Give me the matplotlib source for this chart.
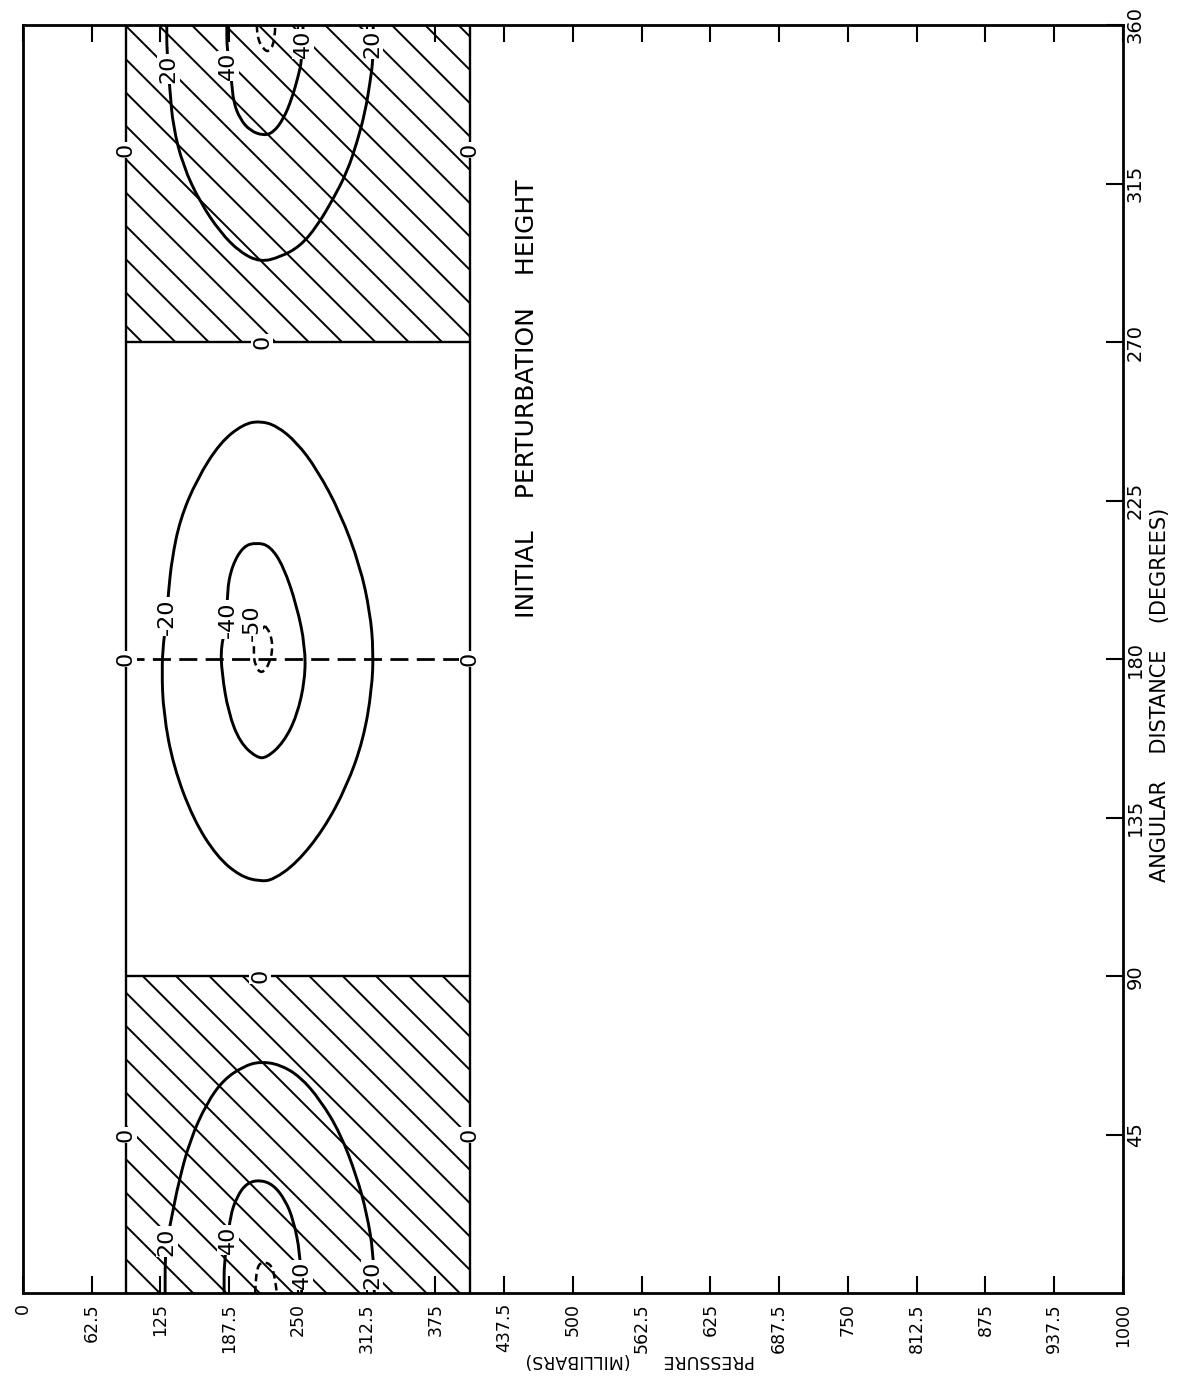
import matplotlib
matplotlib.use("Agg")
import matplotlib.pyplot as plt
from matplotlib.path import Path
from matplotlib.patches import PathPatch

plt.rcParams['font.family'] = ['DejaVu Sans']
plt.rcParams['hatch.linewidth'] = 1.4

#Axes: pressure (mb) runs left to right, angular distance (deg) bottom to top
PRESSURETICKS = [0, 62.5, 125, 187.5, 250, 312.5, 375, 437.5, 500, 562.5, 625, 687.5, 750, 812.5, 875, 937.5, 1000]
PRESSURELABELS = ['0', '62.5', '125', '187.5', '250', '312.5', '375', '437.5', '500',
                  '562.5', '625', '687.5', '750', '812.5', '875', '937.5', '1000']
ANGLETICKS = [45, 90, 135, 180, 225, 270, 315, 360]
ANGLELABELS = ['45', '90', '135', '180', '225', '270', '315', '360']

#Model domain, zero lines and positive (hatched) sectors
PTOP = 93.75
PBOTTOM = 406.25
ZEROANGLES = [90, 270]
TROUGHANGLE = 180
HATCHLOW = [0, 270]
HATCHHIGH = [90, 360]

#Contours, pressure (mb) / angle (deg)
top20P = [130.9, 130.9, 133.9, 136.6, 145.7, 161.2, 179.4, 197.5, 215.7, 233.9, 252.1, 267.5, 282.1, 294.8, 303.9, 311.2, 315.7, 318.5, 318.5]
top20A = [360, 352.9, 341.0, 331.3, 320.0, 309.7, 301.2, 295.5, 292.7, 294.1, 297.2, 302.9, 310.6, 318.3, 326.8, 335.3, 343.8, 350.4, 360]
top40P = [185.5, 185.5, 190.0, 191.5, 197.5, 206.6, 218.7, 227.8, 236.9, 244.5, 250.5, 253.6, 254.8]
top40A = [360, 353.2, 343.8, 338.1, 333.3, 330.0, 328.6, 329.5, 333.3, 339.0, 345.6, 349.9, 360]
top50P = [212.7, 213.5, 218.7, 223.2, 227.8, 229.4, 229.4]
top50A = [360, 356.0, 353.2, 352.3, 354.2, 358.5, 360]

bot20P = [129.4, 129.4, 130.9, 135.5, 141.5, 152.1, 167.3, 182.4, 200.5, 215.7, 233.9, 252.1, 270.3, 288.5, 303.6, 312.7, 318.7, 319.5]
bot20A = [0, 9.5, 14.7, 21.8, 31.3, 43.6, 54.0, 60.6, 64.4, 65.8, 64.9, 61.5, 54.9, 45.5, 33.1, 22.7, 11.4, 0]
bot40P = [183.0, 183.0, 186.6, 188.5, 194.5, 203.6, 215.7, 227.8, 238.5, 246.0, 252.1, 253.5]
bot40A = [0, 9.0, 15.1, 21.8, 27.4, 31.3, 32.2, 30.8, 26.5, 20.8, 11.4, 0]
bot50P = [211.2, 212.7, 218.7, 226.4, 229.4, 230.9]
bot50A = [0, 7.6, 9.0, 8.0, 3.8, 0]

neg20P = [130.9, 132.4, 135.5, 143.0, 158.2, 179.4, 200.5, 215.7, 230.9, 249.1, 267.3, 288.5, 306.6, 315.7, 318.7,
          317.3, 309.6, 294.5, 273.3, 249.1, 227.8, 215.7, 197.5, 176.4, 155.1, 136.9, 127.8, 126.4, 127.8, 130.9]
neg20A = [192.1, 198.9, 208.3, 219.7, 231.0, 241.5, 246.7, 247.6, 246.2, 241.5, 233.9, 221.6, 206.4, 193.2, 182.3,
          171.4, 157.2, 143.9, 131.6, 122.2, 117.4, 116.9, 118.4, 124.0, 134.5, 149.6, 164.8, 177.1, 184.7, 192.1]
neg40P = [186.6, 185.5, 190.0, 200.5, 212.7, 224.8, 236.9, 249.1, 256.6, 256.6, 249.1, 236.9, 221.8, 212.7, 197.5, 186.9, 180.9, 180.0, 186.6]
neg40A = [191.3, 198.9, 206.4, 212.1, 213.1, 212.1, 206.4, 195.1, 183.7, 174.2, 163.8, 156.3, 152.0, 152.0, 156.3, 164.8, 176.1, 183.7, 191.3]
neg50P = [220.3, 224.8, 227.3, 224.8, 217.3, 211.2, 209.6, 211.2, 220.3]
neg50A = [189.4, 187.5, 183.7, 179.0, 175.7, 178.0, 182.3, 186.7, 189.4]

#Contour labels
labelTexts = ['20', '20', '40', '40', '20', '20', '40', '40', '-20', '-40', '-50']
labelP = [132.5, 317.5, 186.6, 254.8, 130.9, 317.5, 186.6, 253.9, 130.9, 186.6, 208.2]
labelA = [347.5, 354.6, 348.4, 354.6, 14.7, 5.2, 15.1, 5.2, 192.1, 191.3, 190.4]
zeroP = [93.75, 406.25, 217.5, 93.75, 406.25, 215.7, 93.75, 406.25]
zeroA = [324.5, 324.5, 270, 180, 180, 90, 45, 45]


def smoothPath(p, a):
    #Quadratic curve through the midpoints, read points act as control points
    pts = list(zip(p, a))
    verts = [pts[0], ((pts[0][0] + pts[1][0]) / 2, (pts[0][1] + pts[1][1]) / 2)]
    codes = [Path.MOVETO, Path.LINETO]
    for i in range(1, len(pts) - 1):
        mid = ((pts[i][0] + pts[i + 1][0]) / 2, (pts[i][1] + pts[i + 1][1]) / 2)
        verts += [pts[i], mid]
        codes += [Path.CURVE3, Path.CURVE3]
    verts.append(pts[-1])
    codes.append(Path.LINETO)
    return Path(verts, codes)


fig = plt.figure(figsize=(11.85, 13.95), dpi=100)
ax = fig.add_axes([0.0192, 0.0729, 0.9285, 0.9092])
ax.set_xlim(0, 1000)
ax.set_ylim(0, 360)

#Hatched sectors
for low, high in zip(HATCHLOW, HATCHHIGH):
    ax.fill_between([PTOP, PBOTTOM], low, high, facecolor='none', edgecolor='black',
                    hatch='\\', linewidth=0, zorder=1)

#Zero lines and trough axis
ax.vlines([PTOP, PBOTTOM], 0, 360, color='black', linewidth=1.7, zorder=2)
ax.hlines(ZEROANGLES, PTOP, PBOTTOM, color='black', linewidth=1.7, zorder=2)
ax.hlines(TROUGHANGLE, PTOP, PBOTTOM, color='black', linewidth=2.0, linestyles=(0, (6.5, 3)), zorder=2)

#Solid contours
for p, a in [(top20P, top20A), (top40P, top40A), (bot20P, bot20A), (bot40P, bot40A), (neg20P, neg20A), (neg40P, neg40A)]:
    ax.add_patch(PathPatch(smoothPath(p, a), facecolor='none', edgecolor='black', linewidth=2.1, zorder=2))

#Dashed 50 contours
for p, a in [(top50P, top50A), (bot50P, bot50A), (neg50P, neg50A)]:
    ax.add_patch(PathPatch(smoothPath(p, a), facecolor='none', edgecolor='black', linewidth=1.8,
                           linestyle=(0, (3, 1.8)), zorder=2))

box = dict(boxstyle='square,pad=0.05', facecolor='white', edgecolor='none')
for t, p, a in zip(labelTexts, labelP, labelA):
    ax.text(p, a, t, rotation=90, fontsize=16, ha='center', va='center', bbox=box, zorder=2.4)
for p, a in zip(zeroP, zeroA):
    ax.text(p, a, '0', rotation=90, fontsize=16, ha='center', va='center', bbox=box, zorder=2.4)

#Ticks
ax.set_xticks(PRESSURETICKS)
ax.set_xticklabels(PRESSURELABELS, rotation=90, fontsize=12.5)
ax.set_yticks(ANGLETICKS)
ax.set_yticklabels(ANGLELABELS, rotation=90, va='center', fontsize=14)
ax.yaxis.tick_right()
ax.tick_params(axis='x', direction='in', length=12, width=1.5, top=True, bottom=True, pad=7)
ax.tick_params(axis='y', direction='in', length=12, width=1.5, left=False, right=True, pad=2)
for spine in ax.spines.values():
    spine.set_linewidth(2.0)

ax.text(0.458, 0.705, 'INITIAL    PERTURBATION    HEIGHT', transform=ax.transAxes,
        rotation=90, fontsize=18, ha='center', va='center')
ax.text(1.0336, 0.472, 'ANGULAR    DISTANCE    (DEGREES)', transform=ax.transAxes,
        rotation=90, fontsize=15, ha='center', va='center')
ax.text(0.561, -0.0526, 'PRESSURE      (MILLIBARS)', transform=ax.transAxes,
        rotation=180, fontsize=12.5, ha='center', va='center')

fig.savefig('out.png', dpi=100)
